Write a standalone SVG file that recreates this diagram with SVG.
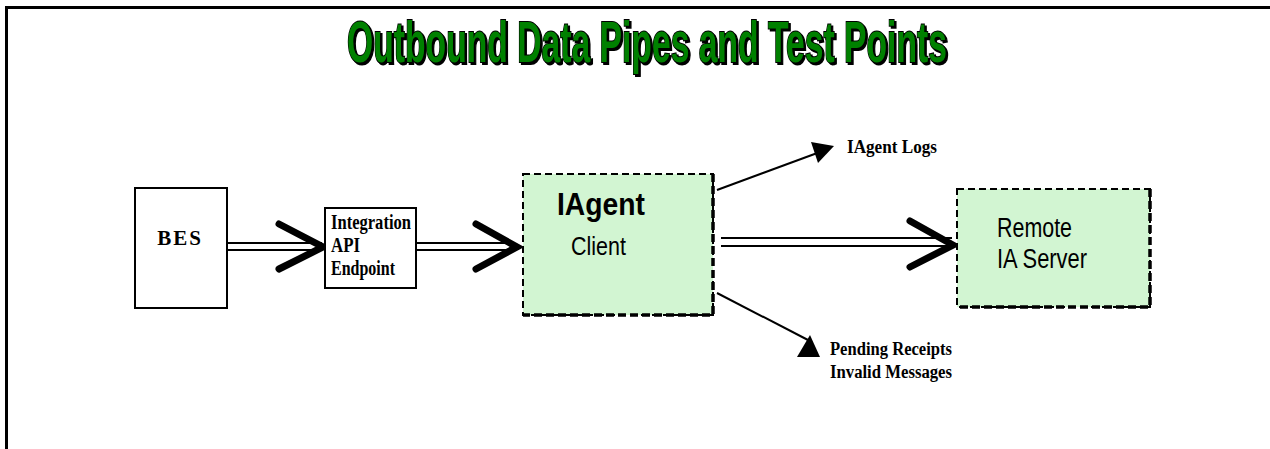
<svg xmlns="http://www.w3.org/2000/svg" width="1270" height="449" viewBox="0 0 1270 449">
<defs>
<style>
.frame{stroke:#000;stroke-width:3;fill:none}
.box{fill:#fff;stroke:#000;stroke-width:2}
.gbox{fill:#d2f5d2;stroke:#000;stroke-width:2;stroke-dasharray:7 4}
.gedge{fill:none;stroke:#000;stroke-width:3.5;stroke-dasharray:8 4}
.pipe{stroke:#000;stroke-width:2;fill:none}
.chev{stroke:#000;stroke-width:7;fill:none;stroke-linecap:round;stroke-linejoin:miter}
.thin{stroke:#000;stroke-width:2;fill:none}
.serif{font-family:"Liberation Serif","Times New Roman",serif;font-weight:bold;fill:#000}
.sans{font-family:"Liberation Sans",Arial,sans-serif;fill:#000}
.title{font-family:"Liberation Sans",Arial,sans-serif;font-weight:bold;font-size:58px;fill:#008000;stroke:#000;stroke-width:2;paint-order:stroke}
</style>
<filter id="shadow" x="-5%" y="-20%" width="110%" height="150%">
<feDropShadow dx="2" dy="2" stdDeviation="0" flood-color="#000" flood-opacity="1"/>
</filter>
</defs>
<rect width="1270" height="449" fill="#fff"/>
<path class="frame" d="M6.5,449 V7.5 H1270"/>
<g id="title">
<text class="title" x="347" y="62" textLength="600" lengthAdjust="spacingAndGlyphs" filter="url(#shadow)">Outbound Data Pipes and Test Points</text>
</g>
<g id="connectors">
<g id="bes-to-api">
<line class="pipe" x1="228" y1="243" x2="322" y2="243"/>
<line class="pipe" x1="228" y1="250" x2="322" y2="250"/>
<polyline class="chev" points="279,224 323,247 279,269"/>
</g>
<g id="api-to-iagent">
<line class="pipe" x1="417" y1="243" x2="515" y2="243"/>
<line class="pipe" x1="417" y1="250" x2="515" y2="250"/>
<polyline class="chev" points="476,224 517,247 476,269"/>
</g>
<g id="iagent-to-remote">
<line class="pipe" x1="721" y1="238" x2="952" y2="238"/>
<line class="pipe" x1="721" y1="246" x2="952" y2="246"/>
<polyline class="chev" points="910,221 953,245 910,267"/>
</g>
<g id="iagent-to-logs">
<line class="thin" x1="717" y1="190" x2="820" y2="152"/>
<polygon points="811,142 834,146 818,163" fill="#000"/>
</g>
<g id="iagent-to-pending">
<line class="thin" x1="717" y1="293" x2="808" y2="340"/>
<polygon points="797,357 810,335 820,357" fill="#000"/>
</g>
</g>
<g id="bes">
<rect class="box" x="135" y="188" width="92" height="120"/>
<text class="serif" x="180" y="245" font-size="21" text-anchor="middle" letter-spacing="2">BES</text>
</g>
<g id="integration-api">
<rect class="box" x="325" y="208" width="91" height="80"/>
<text class="serif" x="331" y="229" font-size="20" textLength="80" lengthAdjust="spacingAndGlyphs">Integration</text>
<text class="serif" x="331" y="252" font-size="20" textLength="29" lengthAdjust="spacingAndGlyphs">API</text>
<text class="serif" x="331" y="275" font-size="20" textLength="64" lengthAdjust="spacingAndGlyphs">Endpoint</text>
</g>
<g id="iagent">
<rect class="gbox" x="523" y="174" width="190" height="141"/>
<path class="gedge" d="M713,174 V315 H523"/>
<text class="sans" x="557" y="215" font-size="31" font-weight="bold" textLength="88" lengthAdjust="spacingAndGlyphs">IAgent</text>
<text class="sans" x="571" y="255" font-size="25" textLength="55" lengthAdjust="spacingAndGlyphs">Client</text>
</g>
<g id="remote">
<rect class="gbox" x="957" y="189" width="193" height="118"/>
<path class="gedge" d="M1150,189 V307 H957"/>
<text class="sans" x="997" y="237" font-size="27" textLength="75" lengthAdjust="spacingAndGlyphs">Remote</text>
<text class="sans" x="997" y="268" font-size="27" textLength="90" lengthAdjust="spacingAndGlyphs">IA Server</text>
</g>
<g id="logs">
<text class="serif" x="847" y="153" font-size="18" textLength="90" lengthAdjust="spacingAndGlyphs">IAgent  Logs</text>
</g>
<g id="pending">
<text class="serif" x="830" y="355" font-size="18" textLength="122" lengthAdjust="spacingAndGlyphs">Pending Receipts</text>
<text class="serif" x="830" y="378" font-size="18" textLength="122" lengthAdjust="spacingAndGlyphs">Invalid Messages</text>
</g>
</svg>
